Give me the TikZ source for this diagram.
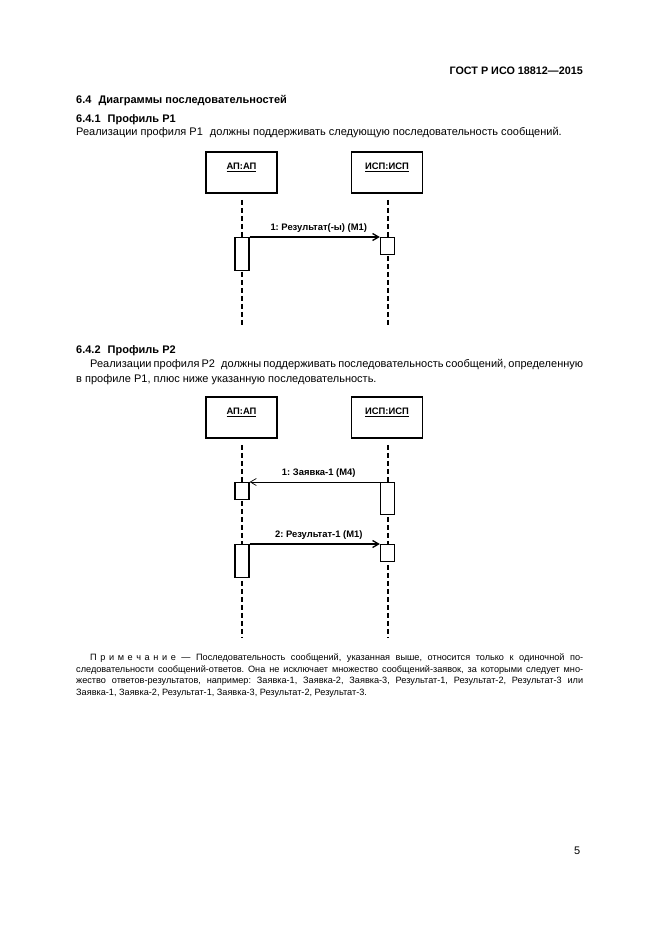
\documentclass[tikz,border=0pt]{standalone}
\usepackage{fontspec}
\setmainfont{Liberation Sans}
\usepackage{tikz}
\usetikzlibrary{arrows.meta, positioning, calc}

\tikzstyle{objbox} = [%
  draw=black,
  line width=1.8pt,
  fill=white,
  minimum width=71pt,
  minimum height=41pt,
  inner sep=0pt
]
\tikzstyle{actbox} = [%
  draw=black,
  line width=1.3pt,
  fill=white,
  minimum width=14pt,
  inner sep=0pt,
  anchor=north
]

\newcommand{\bodyfont}{\fontsize{11pt}{13pt}\selectfont}
\newcommand{\notefont}{\fontsize{9.15pt}{11pt}\selectfont}
\newcommand{\diafont}{\fontsize{9.4pt}{10pt}\selectfont\bfseries}

\frenchspacing

\begin{document}
\begin{tikzpicture}[%
  x=1pt, y=-1pt,
  lifeline/.style={%
    line width=1.8pt,
    dash pattern=on 5pt off 3pt
  },
  msg/.style={%
    -{Straight Barb[length=6pt,width=7pt]},
    line width=1.3pt
  },
  thinmsg/.style={%
    -{Straight Barb[length=6pt,width=7pt]},
    line width=0.7pt
  },
  every node/.style={inner sep=0pt},
  body/.style={anchor=base west,font=\bodyfont},
  sect/.style={anchor=base west,font=\bodyfont\bfseries},
  note/.style={anchor=base west,font=\notefont},
  objlabel/.style={font=\diafont},
  msglabel/.style={font=\diafont,above=4pt,xshift=4pt}
]

  \useasboundingbox[fill=white] (0,0) rectangle (661,935);

  % Page text
  \node[sect,anchor=base east,font=\fontsize{10.8pt}{13pt}\selectfont\bfseries] (gost) at (583,74) {ГОСТ Р ИСО 18812—2015};
  \node[sect] (s64) at (76,103) {6.4\hspace{4pt} Диаграммы последовательностей};
  \node[sect] (s641) at (76,122) {6.4.1\hspace{4pt} Профиль Р1};
  \node[body] (p1) at (76,135) {Реализации профиля Р1\hspace{4pt} должны поддерживать следующую последовательность сообщений.};
  \node[sect] (s642) at (76,353) {6.4.2\hspace{4pt} Профиль Р2};
  \node[body] (p2a) at (90,367) {\makebox[493pt][s]{Реализации профиля Р2\hspace{4pt} должны поддерживать последовательность сообщений, определенную}};
  \node[body] (p2b) at (76,382) {в профиле Р1, плюс ниже указанную последовательность.};

  % Diagram 1
  \node[objbox] (AP1) at (241.5,172.5) {};
  \node[objbox] (ISP1) at (387,172.5) {};
  \node[objlabel] at ([yshift=5pt]AP1.center) {\underline{АП:АП}};
  \node[objlabel] at ([yshift=5pt]ISP1.center) {\underline{ИСП:ИСП}};
  \coordinate (AP1end) at (242,325);
  \coordinate (ISP1end) at (388,325);
  \draw[lifeline] ([yshift=-6pt]AP1.south -| AP1end) -- (AP1end);
  \draw[lifeline] ([yshift=-6pt]ISP1.south -| ISP1end) -- (ISP1end);
  \node[actbox,minimum height=33pt] (AP1a) at (242,237) {};
  \node[actbox,minimum height=17pt] (ISP1a) at (387.5,237) {};
  \draw[msg] (AP1a.north east) to node [msglabel] {1: Результат(-ы) (M1)} (ISP1a.north west);

  % Diagram 2
  \node[objbox] (AP2) at (241.5,417.5) {};
  \node[objbox] (ISP2) at (387,417.5) {};
  \node[objlabel] at ([yshift=5pt]AP2.center) {\underline{АП:АП}};
  \node[objlabel] at ([yshift=5pt]ISP2.center) {\underline{ИСП:ИСП}};
  \coordinate (AP2end) at (242,637);
  \coordinate (ISP2end) at (388,637);
  \draw[lifeline] ([yshift=-6pt]AP2.south -| AP2end) -- (AP2end);
  \draw[lifeline] ([yshift=-6pt]ISP2.south -| ISP2end) -- (ISP2end);
  \node[actbox,minimum height=17pt] (AP2a) at (242,482) {};
  \node[actbox,minimum height=32pt] (ISP2a) at (387.5,482) {};
  \node[actbox,minimum height=33pt] (AP2b) at (242,544) {};
  \node[actbox,minimum height=17pt] (ISP2b) at (387.5,544) {};
  \draw[thinmsg] (ISP2a.north west) to node [msglabel] {1: Заявка-1 (M4)} (AP2a.north east);
  \draw[msg] (AP2b.north east) to node [msglabel] {2: Результат-1 (M1)} (ISP2b.north west);

  % Note
  \node[note] (n1) at (90,660.5) {\makebox[493pt][s]{П\kern3.6pt р\kern3.6pt и\kern3.6pt м\kern3.6pt е\kern3.6pt ч\kern3.6pt а\kern3.6pt н\kern3.6pt и\kern3.6pt е — Последовательность сообщений, указанная выше, относится только к одиночной по-}};
  \node[note] (n2) at (76,672) {\makebox[507pt][s]{следовательности сообщений-ответов. Она не исключает множество сообщений-заявок, за которыми следует мно-}};
  \node[note] (n3) at (76,683.5) {\makebox[507pt][s]{жество ответов-результатов, например: Заявка-1, Заявка-2, Заявка-3, Результат-1, Результат-2, Результат-3 или}};
  \node[note] (n4) at (76,695) {Заявка-1, Заявка-2, Результат-1, Заявка-3, Результат-2, Результат-3.};

  % Page number
  \node[body] (pnum) at (574,854) {5};

\end{tikzpicture}
\end{document}
